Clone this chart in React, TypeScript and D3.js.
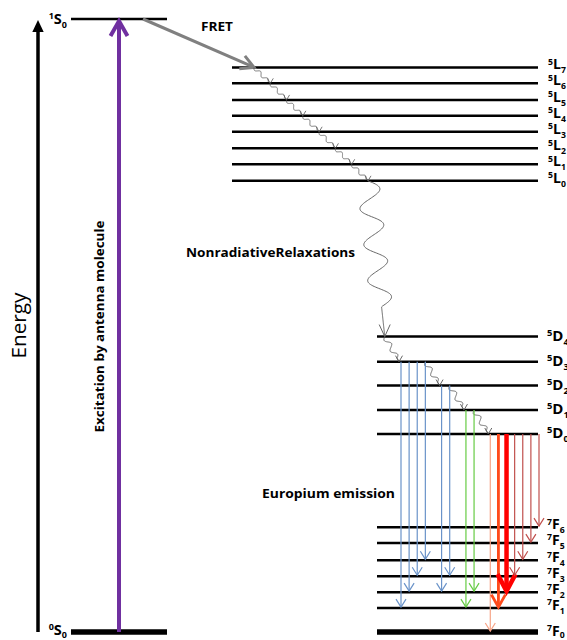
import React, { useRef, useEffect } from 'react';
import { select, scaleLinear, scaleThreshold, line } from 'd3';

// energies in arbitrary units (the diagram is not to scale), 0 = ground state
const antennaSup = ['0', '1'];
const antennaEnergy = [0, 100];

const lSub = ['0', '1', '2', '3', '4', '5', '6', '7'];
const lEnergy = [73.6, 76.3, 78.9, 81.6, 84.2, 86.8, 89.5, 92.1];

const dSub = ['0', '1', '2', '3', '4'];
const dEnergy = [32.3, 36.2, 40.2, 44.1, 48.2];

const fSub = ['0', '1', '2', '3', '4', '5', '6'];
const fEnergy = [0, 3.9, 6.5, 9.1, 11.7, 14.5, 17.1];

// radiative transitions 5Dj -> 7Fj
const emissionFrom = [3, 3, 3, 3, 2, 2, 1, 1, 0, 0, 0, 0, 0, 0, 0];
const emissionTo = [1, 2, 3, 4, 2, 3, 1, 2, 0, 1, 2, 3, 4, 5, 6];
const emissionNm = [416, 420, 428, 435, 488, 509, 536, 555, 578, 591, 612, 650, 700, 750, 810];
const emissionIntensity = [1, 1, 1, 1, 1, 1, 1, 1, 1, 2, 3, 1, 1, 1, 1];

const FONT = "'Open Sans', Lato, sans-serif";

const wavePath = (x0, y0, x1, y1, periods, amp, tail) => {
  const dx = x1 - x0, dy = y1 - y0;
  const len = Math.hypot(dx, dy);
  const ux = dx / len, uy = dy / len;
  const body = len - tail;
  const pts = [];
  for (let i = 0; i <= 200; i++) {
    const s = (i / 200) * len;
    const off = s < body ? amp * Math.sin((2 * Math.PI * periods * s) / body) : 0;
    pts.push([x0 + ux * s - uy * off, y0 + uy * s + ux * off]);
  }
  return line()(pts);
};

// open arrow head, tip at (x, y)
const chevron = (x, y, angle, hw, len) => {
  const ca = Math.cos(angle), sa = Math.sin(angle);
  const bx = x - ca * len, by = y - sa * len;
  return `M${bx - sa * hw},${by + ca * hw}L${x},${y}L${bx + sa * hw},${by - ca * hw}`;
};

function EnergyDiagram() {
  const svgRef = useRef();

  useEffect(() => {
    const svg = select(svgRef.current);
    svg.selectAll('*').remove();

    const yScale = scaleLinear().domain([0, 100]).range([632, 19]);

    // x slots of the emission arrows, with a gap between the 5D levels
    let slot = -1;
    const slots = emissionFrom.map((f, i) => {
      slot += i > 0 && f !== emissionFrom[i - 1] ? 2 : 1;
      return slot;
    });
    const xSlot = scaleLinear().domain([0, 17]).range([401, 539]);
    const xCascade = scaleLinear().domain([7, 0]).range([254, 368]);

    const colorScale = scaleThreshold()
      .domain([520, 570, 585, 600, 640])
      .range(['#6a93c9', '#66cc44', '#f7a487', '#ff4b1c', '#ff0000', '#c0504d']);
    const widthScale = scaleLinear().domain([1, 3]).range([1.2, 4.5]);
    const headW = scaleLinear().domain([1, 3]).range([5, 9]);
    const headL = scaleLinear().domain([1, 3]).range([8, 17]);

    const levelLabel = (x, y, sup, main, sub, size, anchor = 'start', subDrop = 0.28) => {
      const t = svg.append('text')
        .attr('x', x).attr('y', y)
        .attr('font-family', FONT).attr('font-weight', 'bold')
        .attr('text-anchor', anchor);
      t.append('tspan').attr('font-size', size * 0.62).attr('dy', -size * 0.33).text(sup);
      t.append('tspan').attr('font-size', size).attr('dy', size * 0.33).text(main);
      t.append('tspan').attr('font-size', size * 0.62).attr('dy', size * subDrop).text(sub);
    };

    const boldText = (x, y, str, size, length) =>
      svg.append('text')
        .attr('x', x).attr('y', y)
        .attr('font-family', FONT).attr('font-size', size).attr('font-weight', 'bold')
        .attr('textLength', length).attr('lengthAdjust', 'spacingAndGlyphs')
        .text(str);

    // energy axis
    svg.append('line')
      .attr('x1', 38).attr('x2', 38)
      .attr('y1', yScale(0)).attr('y2', yScale(100) + 10)
      .attr('stroke', 'black').attr('stroke-width', 3.5);
    svg.append('path')
      .attr('d', `M32.3,${yScale(100) + 13}L38,${yScale(100) + 1}L43.7,${yScale(100) + 13}Z`)
      .attr('fill', 'black');
    svg.append('text')
      .attr('transform', `translate(26,${yScale(50)})rotate(-90)`)
      .attr('text-anchor', 'middle')
      .attr('font-family', FONT).attr('font-size', 20)
      .attr('textLength', 66).attr('lengthAdjust', 'spacingAndGlyphs')
      .text('Energy');

    // antenna levels
    antennaEnergy.forEach((e, i) => {
      svg.append('line')
        .attr('x1', 71).attr('x2', 167)
        .attr('y1', yScale(e)).attr('y2', yScale(e))
        .attr('stroke', 'black').attr('stroke-width', e === 0 ? 5.5 : 2.5);
      levelLabel(67, yScale(e) + (e === 0 ? 3 : 5), antennaSup[i], 'S', '0', 14.5, 'end', e === 0 ? 0.2 : 0.3);
    });

    // europium levels
    lEnergy.forEach((e, i) => {
      svg.append('line')
        .attr('x1', 232).attr('x2', 538)
        .attr('y1', yScale(e)).attr('y2', yScale(e))
        .attr('stroke', 'black').attr('stroke-width', 2.5);
      levelLabel(548, yScale(e) + 2, '5', 'L', lSub[i], 14);
    });
    dEnergy.forEach((e, i) => {
      svg.append('line')
        .attr('x1', 377).attr('x2', 538)
        .attr('y1', yScale(e)).attr('y2', yScale(e))
        .attr('stroke', 'black').attr('stroke-width', 2.5);
      levelLabel(547, yScale(e) + 4, '5', 'D', dSub[i], 15);
    });
    fEnergy.forEach((e, i) => {
      svg.append('line')
        .attr('x1', 377).attr('x2', 538)
        .attr('y1', yScale(e)).attr('y2', yScale(e))
        .attr('stroke', 'black').attr('stroke-width', e === 0 ? 5.5 : 2.5);
      levelLabel(547, yScale(e) + (e === 0 ? 3.5 : 2), '7', 'F', fSub[i], 14, 'start', e === 0 ? 0.16 : 0.28);
    });

    // excitation
    svg.append('line')
      .attr('x1', 119).attr('x2', 119)
      .attr('y1', yScale(0)).attr('y2', yScale(100) + 3)
      .attr('stroke', '#7030a0').attr('stroke-width', 4);
    svg.append('path')
      .attr('d', chevron(119, yScale(100) + 2, -Math.PI / 2, 8.5, 15))
      .attr('fill', 'none').attr('stroke', '#7030a0').attr('stroke-width', 4);
    svg.append('text')
      .attr('transform', `translate(104,${yScale(50) + 1})rotate(-90)`)
      .attr('text-anchor', 'middle')
      .attr('font-family', FONT).attr('font-size', 12.5).attr('font-weight', 'bold')
      .attr('textLength', 212).attr('lengthAdjust', 'spacingAndGlyphs')
      .text('Excitation by antenna molecule');

    // FRET
    const fx = xCascade(7), fy = yScale(lEnergy[7]);
    const fa = Math.atan2(fy - yScale(100), fx - 143);
    svg.append('line')
      .attr('x1', 143).attr('y1', yScale(100))
      .attr('x2', fx - 2).attr('y2', fy - 1)
      .attr('stroke', '#808080').attr('stroke-width', 3);
    svg.append('path')
      .attr('d', chevron(fx, fy, fa, 7, 13))
      .attr('fill', 'none').attr('stroke', '#808080').attr('stroke-width', 3);
    boldText(201, 31, 'FRET', 13, 32);

    // cascade through the 5L levels
    for (let i = 7; i > 0; i--) {
      const x0 = xCascade(i), y0 = yScale(lEnergy[i]);
      const x1 = xCascade(i - 1), y1 = yScale(lEnergy[i - 1]);
      svg.append('path')
        .attr('d', wavePath(x0, y0, x1, y1, 2, 1.8, 3))
        .attr('fill', 'none').attr('stroke', '#555').attr('stroke-width', 0.8);
      svg.append('path')
        .attr('d', chevron(x1, y1, Math.PI / 2, 3, 5))
        .attr('fill', 'none').attr('stroke', '#555').attr('stroke-width', 0.8);
    }

    // large nonradiative relaxation 5L0 -> 5D4
    const bx0 = xCascade(0), by0 = yScale(lEnergy[0]);
    const bx1 = xSlot(-2), by1 = yScale(dEnergy[4]);
    svg.append('path')
      .attr('d', wavePath(bx0, by0, bx1, by1, 3.5, -11, 30))
      .attr('fill', 'none').attr('stroke', '#666').attr('stroke-width', 1);
    svg.append('path')
      .attr('d', chevron(bx1, by1, Math.atan2(by1 - by0, 1), 5.5, 12))
      .attr('fill', 'none').attr('stroke', '#666').attr('stroke-width', 1);
    boldText(186, 257, 'NonradiativeRelaxations', 12.5, 169);

    // cascade through the 5D levels
    for (let j = 4; j > 0; j--) {
      const upper = slots.filter((s, i) => emissionFrom[i] === j);
      const lower = slots.filter((s, i) => emissionFrom[i] === j - 1);
      const x0 = upper.length ? xSlot(upper[upper.length - 1]) : bx1;
      const x1 = xSlot(lower[0]) - 2;
      const y0 = yScale(dEnergy[j]), y1 = yScale(dEnergy[j - 1]);
      svg.append('path')
        .attr('d', wavePath(x0, y0, x1, y1, 2, 2.5, 4))
        .attr('fill', 'none').attr('stroke', '#555').attr('stroke-width', 0.9);
      svg.append('path')
        .attr('d', chevron(x1, y1, Math.PI / 2, 3.5, 6))
        .attr('fill', 'none').attr('stroke', '#555').attr('stroke-width', 0.9);
    }

    // emission arrows
    emissionFrom.forEach((f, i) => {
      const x = xSlot(slots[i]);
      const y0 = yScale(dEnergy[f]);
      const y1 = yScale(fEnergy[emissionTo[i]]) - 1;
      const c = colorScale(emissionNm[i]);
      const w = widthScale(emissionIntensity[i]);
      svg.append('line')
        .attr('x1', x).attr('x2', x).attr('y1', y0).attr('y2', y1)
        .attr('stroke', c).attr('stroke-width', w);
      svg.append('path')
        .attr('d', chevron(x, y1, Math.PI / 2, headW(emissionIntensity[i]), headL(emissionIntensity[i])))
        .attr('fill', 'none').attr('stroke', c).attr('stroke-width', w);
    });

    boldText(262, 498, 'Europium emission', 13, 133);
  }, []);

  return (
    <svg ref={svgRef} width={567} height={640}
      style={{ position: 'absolute', left: 0, top: 0, background: 'white' }} />
  );
}

export default function App() {
  return <EnergyDiagram />;
}
